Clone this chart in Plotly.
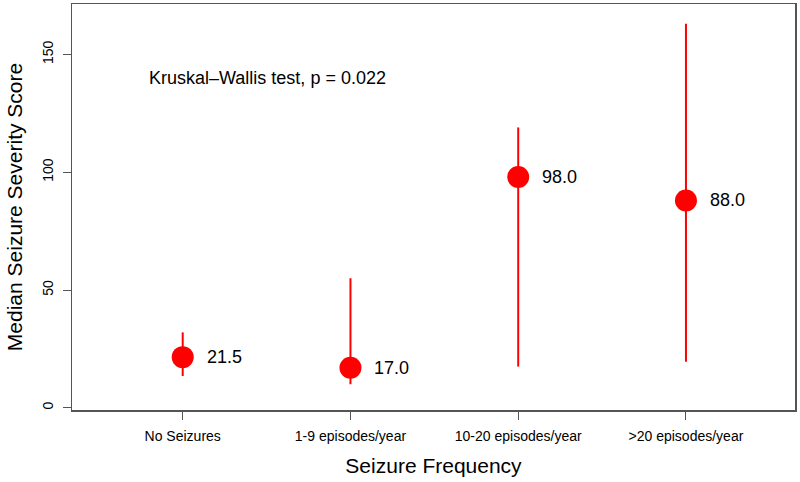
import plotly.graph_objects as go

categories = ["No Seizures", "1-9 episodes/year", "10-20 episodes/year", ">20 episodes/year"]
median_score = [21.5, 17.0, 98.0, 88.0]
lower_bound = [13.5, 10.0, 17.5, 19.5]
upper_bound = [32.0, 55.0, 119.0, 163.0]
y_tick_vals = [0, 50, 100, 150]
y_tick_text = ["0", "50", "100", "150"]
test_label = "Kruskal\u2013Wallis test, p = 0.022"

FONT = "Liberation Sans, Arial, Helvetica, sans-serif"
RED = "#ff0000"
AX = "#555555"

err_plus = [u - m for u, m in zip(upper_bound, median_score)]
err_minus = [m - l for m, l in zip(median_score, lower_bound)]

fig = go.Figure()
fig.add_trace(go.Scatter(
    x=categories, y=median_score, mode="markers",
    marker=dict(color=RED, size=22, line=dict(width=0)),
    error_y=dict(type="data", symmetric=False, array=err_plus, arrayminus=err_minus,
                 color=RED, thickness=2, width=0),
    showlegend=False, hoverinfo="skip",
))

for c, m in zip(categories, median_score):
    fig.add_annotation(x=c, y=m, xref="x", yref="y", text=f"{m:.1f}",
                       showarrow=False, xanchor="left", yanchor="middle", xshift=22,
                       font=dict(family=FONT, size=18, color="black"))

fig.add_annotation(x=-0.21, y=140, xref="x", yref="y", text=test_label,
                   showarrow=False, xanchor="left", yanchor="middle",
                   font=dict(family=FONT, size=18, color="black"))

fig.update_layout(
    width=800, height=482,
    margin=dict(l=72, r=5, t=4, b=72, pad=0),
    paper_bgcolor="white", plot_bgcolor="white",
    font=dict(family=FONT, color="black"),
    xaxis=dict(
        type="category", categoryorder="array", categoryarray=categories,
        range=[-0.66, 3.65], automargin=False,
        showgrid=False, zeroline=False,
        showline=True, mirror=True, linecolor=AX, linewidth=1.5,
        ticks="outside", ticklen=8, tickcolor=AX, tickwidth=1,
        ticklabelstandoff=5,
        tickfont=dict(family=FONT, size=14, color="black"),
        title=dict(text="Seizure Frequency", font=dict(family=FONT, size=21, color="black"), standoff=15),
    ),
    yaxis=dict(
        range=[-0.94, 171.4], automargin=False,
        tickvals=y_tick_vals, ticktext=y_tick_text, tickangle=-90,
        showgrid=False, zeroline=False,
        showline=True, mirror=True, linecolor=AX, linewidth=1.5,
        ticks="outside", ticklen=8, tickcolor=AX, tickwidth=1,
        ticklabelstandoff=4,
        tickfont=dict(family=FONT, size=14, color="black"),
        title=dict(text="Median Seizure Severity Score", font=dict(family=FONT, size=21, color="black"), standoff=11),
    ),
)

fig.write_html("out.html", config={"displayModeBar": False, "staticPlot": True},
               post_script="document.body.style.margin='0';document.body.style.overflow='hidden';")
